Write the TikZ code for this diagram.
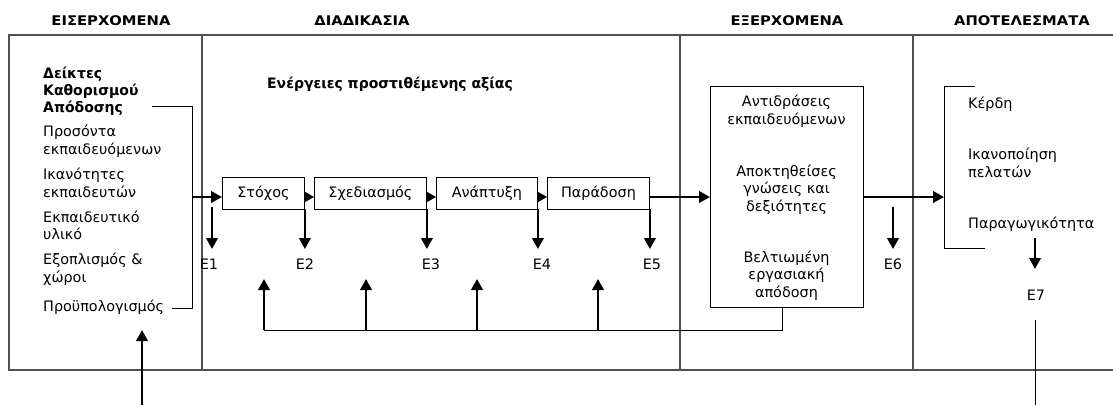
\documentclass[tikz,border=0pt]{standalone}
\usepackage{fontspec}
\setmainfont{DejaVu Sans}
\newfontfamily\hdrfont{DejaVu Sans}[FakeStretch=1.11]
\newfontfamily\leadfont{DejaVu Sans}[FakeStretch=0.97]
\usetikzlibrary{arrows.meta}
\definecolor{rulegray}{HTML}{505050}
\begin{document}
\begin{tikzpicture}[x=1pt,y=-1pt,
  rule/.style={draw=rulegray,line width=1.3pt},
  thinline/.style={draw=black,line width=0.9pt},
  stage/.style={draw=black,line width=0.9pt,minimum height=32pt,inner sep=0pt,anchor=west,
    font=\fontsize{14.4}{17}\selectfont},
  txt/.style={inner sep=0pt,font=\fontsize{14.4}{17.2}\selectfont},
  lead/.style={inner sep=0pt,font=\leadfont\fontsize{14.4}{17}\selectfont\bfseries},
  hdr/.style={inner sep=0pt,anchor=base,font=\hdrfont\fontsize{13.3}{15}\selectfont\bfseries},
  flow/.style={line width=2.2pt,-{Triangle[length=11pt,width=11.5pt]}},
  hop/.style={line width=1pt,-{Triangle[length=9pt,width=10pt]}},
]
\useasboundingbox (0,0) rectangle (1113,405);

% column headers
\node[hdr] (h1) at (111,25.5) {ΕΙΣΕΡΧΟΜΕΝΑ};
\node[hdr] (h2) at (362,25.5) {ΔΙΑΔΙΚΑΣΙΑ};
\node[hdr] (h3) at (787,25.5) {ΕΞΕΡΧΟΜΕΝΑ};
\node[hdr] (h4) at (1022,25.5) {ΑΠΟΤΕΛΕΣΜΑΤΑ};

% frame and column dividers
\draw[rule] (1113,35) -- (9,35) -- (9,370) -- (1113,370);
\draw[rule] (202,35) -- (202,370);
\draw[rule] (680,35) -- (680,370);
\draw[rule] (913,35) -- (913,370);

% inputs column (each node is anchored on the baseline of its last line)
\node[lead,anchor=base west,align=left] (kpi) at (43,112) {Δείκτες\\Καθορισμού\\Απόδοσης};
\node[txt,anchor=base west,align=left] (in1) at (43,154) {Προσόντα\\εκπαιδευόμενων};
\node[txt,anchor=base west,align=left] (in2) at (43,197) {Ικανότητες\\εκπαιδευτών};
\node[txt,anchor=base west,align=left] (in3) at (43,239.5) {Εκπαιδευτικό\\υλικό};
\node[txt,anchor=base west,align=left] (in4) at (43,282) {Εξοπλισμός \&\\χώροι};
\node[txt,anchor=base west,align=left] (in5) at (43,311) {Προϋπολογισμός};

% bracket gathering the inputs
\coordinate (lb1) at (152,106);
\coordinate (lb2) at (192,106);
\coordinate (lb3) at (192,308);
\coordinate (lb4) at (172,308);
\draw[thinline] (lb1) -- (lb2) -- (lb3) -- (lb4);

% process column
\node[lead,anchor=base west] (va) at (267,88) {Ενέργειες προστιθέμενης αξίας};
\node[stage,minimum width=82pt] (s1) at (222,193) {Στόχος};
\node[stage,minimum width=112pt] (s2) at (314,193) {Σχεδιασμός};
\node[stage,minimum width=101pt] (s3) at (436,193) {Ανάπτυξη};
\node[stage,minimum width=102pt] (s4) at (547,193) {Παράδοση};

\coordinate (fl) at (0,197);
\draw[flow] (lb2 |- fl) -- (s1.west |- fl);
\draw[hop] (s1.east |- fl) -- (s2.west |- fl);
\draw[hop] (s2.east |- fl) -- (s3.west |- fl);
\draw[hop] (s3.east |- fl) -- (s4.west |- fl);

% evaluation points
\node[txt,anchor=north] (e1) at (209,259) {E1};
\node[txt,anchor=north] (e2) at (305,259) {E2};
\node[txt,anchor=north] (e3) at (431,259) {E3};
\node[txt,anchor=north] (e4) at (542,259) {E4};
\node[txt,anchor=north] (e5) at (652,259) {E5};
\coordinate (e1top) at (212,207);
\draw[flow,shorten >=10pt] (e1top) -- (e1top |- e1.north);
\draw[flow,shorten >=10pt] (s1.south east) -- (s1.south east |- e2.north);
\draw[flow,shorten >=10pt] (s2.south east) -- (s2.south east |- e3.north);
\draw[flow,shorten >=10pt] (s3.south east) -- (s3.south east |- e4.north);
\draw[flow,shorten >=10pt] (s4.south east) -- (s4.south east |- e5.north);

% outputs box
\node[draw=black,line width=0.9pt,minimum width=153pt,minimum height=221pt,anchor=north west,inner sep=0pt] (out) at (710,86) {};
\node[txt,anchor=base,align=center] (o1) at (786.5,124) {Αντιδράσεις\\εκπαιδευόμενων};
\node[txt,anchor=base,align=center] (o2) at (786.5,211) {Αποκτηθείσες\\γνώσεις και\\δεξιότητες};
\node[txt,anchor=base,align=center] (o3) at (786.5,297) {Βελτιωμένη\\εργασιακή\\απόδοση};
\draw[flow] (s4.east |- fl) -- (out.west |- fl);

% feedback loop
\coordinate (fbr) at (782,330);
\coordinate (fbl) at (264,330);
\coordinate (u1) at (264,279);
\coordinate (u2) at (366,279);
\coordinate (u3) at (477,279);
\coordinate (u4) at (598,279);
\draw[thinline] (out.south -| fbr) -- (fbr) -- (fbl);
\draw[flow] (u1 |- fbl) -- (u1);
\draw[flow] (u2 |- fbl) -- (u2);
\draw[flow] (u3 |- fbl) -- (u3);
\draw[flow] (u4 |- fbl) -- (u4);

% results column
\coordinate (rb1) at (975,86);
\coordinate (rb2) at (944,86);
\coordinate (rb3) at (944,248);
\coordinate (rb4) at (985,248);
\draw[thinline] (rb1) -- (rb2) -- (rb3) -- (rb4);
\draw[flow] (out.east |- fl) -- (rb2 |- fl);
\node[txt,anchor=base west] (r1) at (968,108) {Κέρδη};
\node[txt,anchor=base west,align=left] (r2) at (968,177) {Ικανοποίηση\\πελατών};
\node[txt,anchor=base west] (r3) at (968,228) {Παραγωγικότητα};

\node[txt,anchor=north] (e6) at (893,259) {E6};
\coordinate (e6top) at (893,207);
\draw[flow,shorten >=10pt] (e6top) -- (e6top |- e6.north);

\node[txt,anchor=north] (e7) at (1036,290) {E7};
\coordinate (e7top) at (1035,238);
\draw[flow,shorten >=21pt] (e7top) -- (e7top |- e7.north);
\coordinate (e7a) at (1035,320);
\coordinate (e7b) at (1035,405);
\draw[thinline] (e7a) -- (e7b);

% input arrow from below
\coordinate (inb) at (142,405);
\coordinate (ina) at (142,330);
\draw[flow] (inb) -- (ina);
\end{tikzpicture}
\end{document}
